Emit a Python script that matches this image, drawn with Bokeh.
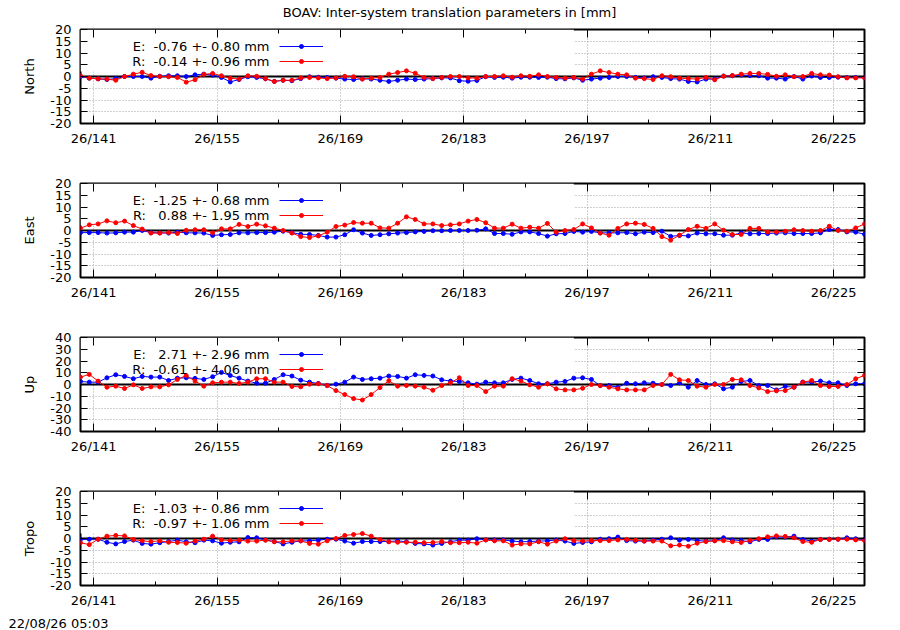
from bokeh.plotting import figure
from bokeh.models import (Range1d, LinearAxis, FixedTicker, Grid, BoxAnnotation,
                          Span, Label, Legend, LegendItem)
from bokeh.layouts import column
from bokeh.embed import file_html
from bokeh.resources import INLINE

# ---------------- data ----------------
title_text = "BOAV: Inter-system translation parameters in [mm]"
footer_text = "22/08/26 05:03"

doy = [139.5, 140.5, 141.5, 142.5, 143.5, 144.5, 145.5, 146.5, 147.5, 148.5,
       149.5, 150.5, 151.5, 152.5, 153.5, 154.5, 155.5, 156.5, 157.5, 158.5,
       159.5, 160.5, 161.5, 162.5, 163.5, 164.5, 165.5, 166.5, 167.5, 168.5,
       169.5, 170.5, 171.5, 172.5, 173.5, 174.5, 175.5, 176.5, 177.5, 178.5,
       179.5, 180.5, 181.5, 182.5, 183.5, 184.5, 185.5, 186.5, 187.5, 188.5,
       189.5, 190.5, 191.5, 192.5, 193.5, 194.5, 195.5, 196.5, 197.5, 198.5,
       199.5, 200.5, 201.5, 202.5, 203.5, 204.5, 205.5, 206.5, 207.5, 208.5,
       209.5, 210.5, 211.5, 212.5, 213.5, 214.5, 215.5, 216.5, 217.5, 218.5,
       219.5, 220.5, 221.5, 222.5, 223.5, 224.5, 225.5, 226.5, 227.5, 228.5]

xtick_days = [141, 155, 169, 183, 197, 211, 225]
xtick_labels = ["26/141", "26/155", "26/169", "26/183", "26/197", "26/211", "26/225"]
xminor_days = [148, 162, 176, 190, 204, 218]

north_E = [0.0, -0.7, -1.0, -1.3, -0.9, 0.0, 0.0, 0.0, -0.7, 0.1,
           0.3, 0.3, 0.0, 0.7, 1.0, 0.6, -0.4, -2.3, -1.3, -0.1,
           -0.4, -1.0, -2.1, -1.6, -1.8, -0.9, -0.1, -0.3, -0.4, -0.7,
           -1.1, -1.3, -1.0, -1.1, -1.6, -2.1, -1.6, -1.1, -1.3, -1.1,
           -0.9, -0.6, -0.6, -1.8, -2.0, -1.7, -0.1, -0.4, -0.3, -0.7,
           -0.3, -0.3, -0.4, -0.3, -0.9, -1.0, -0.6, -1.6, -1.1, -0.7,
           -0.4, 0.0, 0.0, -0.4, -0.6, -0.1, -0.4, -0.9, -1.1, -2.1,
           -2.3, -1.1, -1.1, 0.2, 0.3, 0.6, 0.4, 0.3, -0.7, -0.7,
           -1.1, 0.0, -1.1, 0.2, -0.4, -0.4, -0.3, -0.4, -0.4, -0.4]
north_R = [0.3, -0.7, -1.0, -1.1, -1.6, 0.0, 1.0, 1.8, 0.4, 0.0,
           -0.1, -0.4, -2.4, -1.4, 0.9, 1.3, 0.3, -0.7, -1.1, 0.3,
           0.1, -0.9, -2.1, -1.6, -1.6, -0.6, -0.4, -0.6, -0.9, -0.6,
           0.1, -0.1, -1.1, -0.7, -0.4, 1.0, 1.7, 2.4, 1.4, -0.4,
           -0.9, -0.4, 0.0, 0.0, -0.6, -0.7, 0.0, 0.0, 0.3, -0.3,
           0.3, 0.1, 0.7, 0.0, -0.4, -0.7, -0.4, -1.1, 1.0, 2.4,
           1.7, 1.0, 0.7, -0.7, -0.9, -1.3, 0.3, -0.1, -0.7, -0.9,
           -1.1, -0.4, -1.4, 0.1, 0.4, 1.0, 1.3, 1.3, 0.9, 0.1,
           0.7, -0.1, 0.0, 1.3, 0.7, 0.6, -0.1, -0.6, -0.6, -0.6]

east_E = [-0.9, -0.9, -0.9, -1.1, -1.0, -0.7, -0.7, 0.0, -0.9, -1.0,
          -1.1, -0.7, -1.0, -1.0, -1.1, -2.1, -1.8, -1.7, -1.0, -1.0,
          -0.9, -0.9, -0.7, -0.3, -0.9, -1.6, -1.7, -2.1, -2.8, -2.8,
          -1.8, 0.3, -1.1, -2.1, -1.8, -1.4, -1.1, -0.9, -0.6, -0.4,
          -0.1, -0.1, 0.0, 0.0, 0.0, 0.1, 0.7, -1.3, -1.3, -1.6,
          -0.6, -0.6, -1.3, -2.4, -1.4, -1.3, -0.4, -0.7, -0.4, -1.0,
          -1.0, -1.0, -0.9, -1.4, -0.7, -0.9, -0.3, -2.5, -2.1, -2.3,
          -1.1, -1.4, -1.4, -2.0, -2.0, -1.0, -1.4, -1.3, -1.3, -1.1,
          -1.0, -1.3, -1.3, -1.3, -1.0, 0.4, 0.4, -0.6, -0.7, -1.6]
east_R = [1.0, 2.4, 2.8, 4.1, 3.3, 4.0, 2.1, 0.6, -1.1, -1.1,
          -0.9, -1.3, 0.1, 0.3, 0.3, -1.0, 0.7, 0.7, 2.6, 1.7,
          2.7, 2.0, 1.0, 0.0, -1.1, -2.6, -3.0, -2.3, -0.7, 1.7,
          2.3, 3.4, 3.1, 3.1, 1.1, 1.0, 3.1, 5.8, 4.7, 2.8,
          2.8, 2.1, 2.4, 2.8, 4.0, 4.7, 3.3, 1.0, 1.0, 2.7,
          1.0, 1.4, 1.0, 3.0, -0.7, 0.0, 0.4, 2.8, 1.1, -1.1,
          -2.0, 0.9, 2.8, 3.1, 2.6, 0.9, -2.6, -4.1, -2.0, 0.4,
          1.8, 0.9, 2.8, 0.1, -1.7, -1.7, 0.9, 0.9, -0.6, -0.6,
          -0.3, 0.3, 0.0, -0.3, 0.0, 1.8, 0.0, -0.3, 1.1, 2.8]

up_E = [2.6, 2.0, 2.0, 5.7, 8.3, 6.9, 4.9, 6.9, 6.3, 6.3,
        3.4, 5.4, 5.7, 5.2, 4.3, 6.6, 10.3, 7.7, 5.4, 2.9,
        1.1, 1.1, 4.3, 8.3, 7.2, 3.7, 2.0, 0.9, -0.9, 0.3,
        2.0, 6.3, 4.3, 4.9, 5.4, 7.2, 6.9, 5.4, 8.3, 7.7,
        7.2, 4.0, 2.9, 2.6, 1.4, 0.3, 2.0, 1.4, 1.4, 4.3,
        5.4, 3.4, 0.6, 0.6, 2.0, 2.6, 5.4, 5.7, 4.3, -0.9,
        -0.9, -2.3, 1.1, 0.6, 1.4, 1.1, 0.0, -0.9, 1.4, -2.3,
        3.4, 0.0, 0.6, -3.7, -2.3, 2.6, 3.4, -0.9, -0.9, -4.6,
        -1.7, -2.3, 2.0, 2.0, 2.9, 1.4, 1.4, -0.9, 0.6, 0.6]
up_R = [6.3, 8.6, 2.9, -2.3, -1.4, -3.4, -0.3, -3.4, -2.0, -2.0,
        -0.3, 4.3, 7.7, 2.9, -1.4, 1.4, 2.0, 2.0, 0.9, 2.0,
        4.9, 4.9, 2.0, 2.0, -1.7, -2.0, 0.3, 0.6, -0.9, -5.2,
        -8.6, -12.0, -13.2, -8.6, -2.6, 3.2, -1.4, -0.9, -1.4, -2.3,
        -4.9, -0.9, 1.4, 5.7, -0.9, -0.9, -6.0, -1.4, -1.4, 4.9,
        2.9, -0.3, -2.3, 0.6, -3.7, -4.6, -4.6, -3.2, 0.0, -0.9,
        -2.3, -3.7, -4.6, -4.6, -4.6, -0.9, 0.0, 8.6, 4.0, 3.4,
        -1.4, -2.3, 0.0, 0.0, 4.3, 4.0, -0.9, -2.9, -6.0, -5.4,
        -5.2, -2.3, 2.0, 3.4, -0.9, -1.7, -1.7, 0.0, 4.9, 7.7]

tropo_E = [-0.4, -0.3, -0.3, -1.6, -2.3, -1.3, -0.7, -2.1, -2.4, -1.8,
           -1.3, -0.7, -1.4, -1.8, -0.7, -1.0, -2.0, -1.6, -1.4, 0.4,
           0.3, -0.6, -1.3, -2.3, -1.6, -1.0, -1.0, -0.7, -0.3, -0.3,
           -1.1, -2.0, -1.3, -1.3, -1.3, -1.3, -1.0, -1.4, -2.1, -2.3,
           -2.8, -2.1, -1.4, -0.7, -0.7, -0.1, -0.6, -0.6, -0.6, -1.1,
           -1.4, -1.3, -1.1, -1.0, -0.6, -1.1, -2.1, -1.7, -1.4, -0.3,
           -0.1, 0.6, -0.9, -1.1, -1.1, -0.7, -0.3, 0.3, -0.7, -0.4,
           -0.9, -1.1, -0.9, 0.3, -0.6, -0.9, -1.4, -0.4, -0.4, 0.7,
           0.6, 1.0, -0.4, -1.1, -0.4, -0.3, -0.3, 0.3, -0.1, -0.4]
tropo_R = [-1.8, -2.6, -0.3, 1.0, 1.3, 1.1, -0.4, -1.0, -1.3, -1.0,
           -1.6, -1.7, -2.0, -1.1, -0.3, 1.0, -0.6, -0.9, -0.7, -1.1,
           -1.1, -0.7, -1.4, -1.4, -1.0, -1.0, -2.1, -2.4, -1.0, 0.0,
           1.3, 1.7, 2.1, 1.0, -0.4, -1.4, -1.6, -1.6, -1.6, -1.8,
           -1.7, -1.3, -1.8, -1.8, -1.6, -2.0, -0.6, -1.0, -1.0, -2.8,
           -2.3, -2.3, -1.4, -2.4, -1.1, -0.1, -0.9, -1.1, -0.9, -0.9,
           -0.9, -0.6, -0.4, -0.7, -1.1, -1.1, -1.1, -3.1, -2.8, -3.3,
           -2.0, -1.3, -1.0, -0.9, -1.4, -1.7, -0.9, -0.1, 0.7, 1.1,
           0.9, 0.3, -1.3, -1.6, -0.4, -0.4, -0.3, -0.3, -0.6, -0.9]

panel_names = ["North", "East", "Up", "Tropo"]
series_E = [north_E, east_E, up_E, tropo_E]
series_R = [north_R, east_R, up_R, tropo_R]
stats_E = [(-0.76, 0.80), (-1.25, 0.68), (2.71, 2.96), (-1.03, 0.86)]
stats_R = [(-0.14, 0.96), (0.88, 1.95), (-0.61, 4.06), (-0.97, 1.06)]
y_limits = [20, 20, 40, 20]
y_steps = [5, 5, 10, 5]

# ---------------- style / layout ----------------
FONT = "DejaVu Sans"
FS = "13px"
BLUE = "#0000ff"
RED = "#ff0000"
GRID = "#a0a0a0"
FIG_W = 900
FRAME_H = 94
BORDER_L, BORDER_R = 80, 36
TITLE_H = 22
FOOTER_H = 18
KEY_BOX_RIGHT = 195.5   # opaque key area (data x)
KEY_BOX_FRAC = 42.0 / 94.0


def fmt_stat(tag, st):
    m, s = st
    txt = "%s: %6.2f +- %.2f mm" % (tag, m, s)
    return txt.replace(" ", "\u00a0")


def text_strip(text, height, x, y, align):
    t = figure(width=FIG_W, height=height, x_range=Range1d(0, 1), y_range=Range1d(0, 1),
               x_axis_type=None, y_axis_type=None, output_backend="svg",
               toolbar_location=None, min_border=0, outline_line_color=None,
               background_fill_color="white", border_fill_color="white")
    try:
        t.frame_align = False
    except Exception:
        pass
    t.add_layout(Label(x=x, y=y, x_units="screen", y_units="screen",
                       text=text, text_align=align, text_baseline="middle",
                       text_font=FONT, text_font_size=FS, text_color="black"))
    return t


figs = [text_strip(title_text, TITLE_H, 449, TITLE_H - 12, "center")]
n = len(panel_names)
for k in range(n):
    first = (k == 0)
    last = (k == n - 1)
    top_border = 7 if first else 23
    bottom_border = 27 if last else 37
    height = top_border + FRAME_H + bottom_border
    ylim = y_limits[k]
    yticks = list(range(-ylim, ylim + 1, y_steps[k]))

    p = figure(width=FIG_W, height=height,
               x_range=Range1d(doy[0], doy[-1]), y_range=Range1d(-ylim, ylim),
               x_axis_type=None, y_axis_type=None,
               output_backend="svg", toolbar_location=None,
               min_border_left=BORDER_L, min_border_right=BORDER_R,
               min_border_top=top_border, min_border_bottom=bottom_border,
               outline_line_color="black", outline_line_width=2,
               background_fill_color="white", border_fill_color="white")

    xt = FixedTicker(ticks=xtick_days, minor_ticks=xminor_days)
    yt = FixedTicker(ticks=yticks)

    p.add_layout(Grid(dimension=0, ticker=xt, grid_line_color=GRID,
                      grid_line_dash="1 2", grid_line_width=1))
    p.add_layout(Grid(dimension=1, ticker=yt, grid_line_color=GRID,
                      grid_line_dash="1 2", grid_line_width=1))

    # opaque key area hides the grid behind the key
    p.add_layout(BoxAnnotation(left=doy[0], right=KEY_BOX_RIGHT,
                               bottom=ylim - KEY_BOX_FRAC * 2 * ylim, top=ylim,
                               fill_color="white", fill_alpha=1.0,
                               line_alpha=0, level="underlay"))
    p.add_layout(Span(location=0, dimension="width", line_color="black",
                      line_width=2, level="underlay"))

    le = p.line(doy, series_E[k], line_color=BLUE, line_width=1)
    se = p.scatter(doy, series_E[k], marker="circle", size=4,
                   fill_color=BLUE, line_color=BLUE)
    lr = p.line(doy, series_R[k], line_color=RED, line_width=1)
    sr = p.scatter(doy, series_R[k], marker="circle", size=4,
                   fill_color=RED, line_color=RED)

    # axes
    bottom = LinearAxis(ticker=xt,
                        major_label_overrides=dict(zip(xtick_days, xtick_labels)),
                        major_tick_in=8, major_tick_out=0,
                        minor_tick_in=4, minor_tick_out=0,
                        axis_line_color=None, major_label_standoff=7,
                        major_label_text_font=FONT, major_label_text_font_size=FS,
                        major_label_text_color="black",
                        major_tick_line_color="black", minor_tick_line_color="black")
    p.add_layout(bottom, "below")
    top = LinearAxis(ticker=xt, major_tick_in=8, major_tick_out=0,
                     minor_tick_in=4, minor_tick_out=0, axis_line_color=None,
                     major_label_text_font_size="0px", major_label_text_color=None,
                     major_label_text_alpha=0, major_label_standoff=0,
                     major_tick_line_color="black", minor_tick_line_color="black")
    p.add_layout(top, "above")
    left = LinearAxis(ticker=yt,
                      major_label_overrides={v: str(v) for v in yticks},
                      major_tick_in=7, major_tick_out=0, minor_tick_line_color=None,
                      axis_line_color=None, major_label_standoff=9,
                      major_label_text_font=FONT, major_label_text_font_size=FS,
                      major_label_text_color="black",
                      axis_label=panel_names[k], axis_label_standoff=10,
                      axis_label_text_font=FONT, axis_label_text_font_size=FS,
                      axis_label_text_font_style="normal",
                      axis_label_text_color="black",
                      major_tick_line_color="black")
    p.add_layout(left, "left")
    right = LinearAxis(ticker=yt, major_tick_in=7, major_tick_out=0,
                       minor_tick_line_color=None, axis_line_color=None,
                       major_label_text_font_size="0px", major_label_text_color=None,
                       major_label_text_alpha=0, major_label_standoff=0,
                       major_tick_line_color="black")
    p.add_layout(right, "right")

    # key: samples via Legend, texts right-aligned to their left
    legend = Legend(items=[LegendItem(label=" ", renderers=[le, se]),
                           LegendItem(label=" ", renderers=[lr, sr])],
                    location=(199, 55), glyph_width=44, glyph_height=10,
                    label_height=15, label_width=1, spacing=0, padding=0,
                    margin=0, border_line_alpha=0, background_fill_alpha=0,
                    label_standoff=0, label_text_font_size="1px")
    p.add_layout(legend)
    for row, (tag, st) in enumerate([("E", stats_E[k]), ("R", stats_R[k])]):
        p.add_layout(Label(x=189, y=FRAME_H - 17 - 15 * row,
                           x_units="screen", y_units="screen",
                           text=fmt_stat(tag, st), text_align="right",
                           text_baseline="middle", text_font=FONT,
                           text_font_size=FS, text_color="black"))
    figs.append(p)

figs.append(text_strip(footer_text, FOOTER_H, 8, 7, "left"))

layout = column(*figs, spacing=0)
open("out.html", "w").write(file_html(layout, INLINE))
